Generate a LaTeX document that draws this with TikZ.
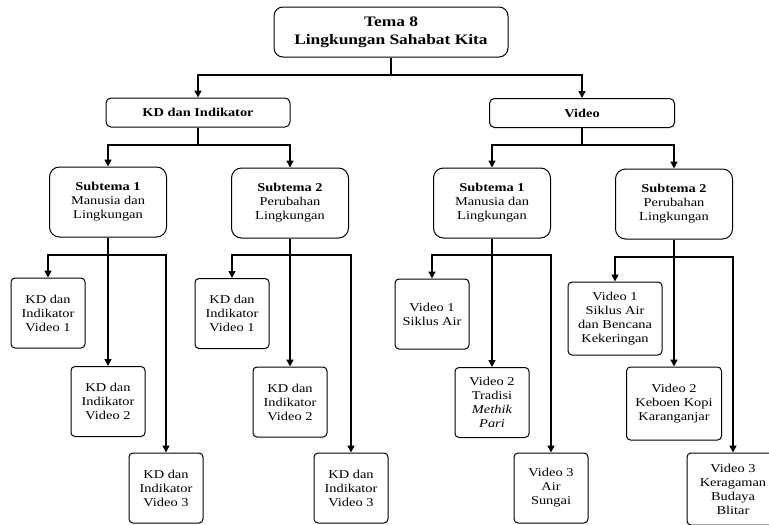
\documentclass[tikz,border=0pt]{standalone}
\usepackage{fontspec}
\setmainfont{Liberation Serif}[FakeStretch=1.2]
\usetikzlibrary{arrows.meta}
\begin{document}
\begin{tikzpicture}[x=1pt,y=-1pt,
  box/.style={draw, line width=1pt, align=center, inner sep=0pt, font=\fontsize{12}{14}\selectfont},
  leaf/.style={box, rounded corners=4pt, minimum width=74pt, minimum height=70pt},
  subbox/.style={box, rounded corners=10pt, minimum width=117pt, minimum height=70pt},
  headbox/.style={box, rounded corners=5pt, minimum height=29pt, font=\bfseries\fontsize{12}{14}\selectfont},
  arr/.style={line width=1.5pt, -{Triangle[length=7pt,width=7pt]}},
  ln/.style={line width=1.5pt}]
\useasboundingbox (0,0) rectangle (769,525);
\clip (0,0) rectangle (769,525);

\node[box, rounded corners=9pt, minimum width=234pt, minimum height=50pt,
      font=\bfseries\fontsize{14.5}{18}\selectfont] (top) at (391,32) {Tema 8\\Lingkungan Sahabat Kita};
\node[headbox, minimum width=184pt] (kd) at (198,112.5) {KD dan Indikator};
\node[headbox, minimum width=185pt] (vid) at (582,113) {Video};

\node[subbox] (s1) at (108,202) {\textbf{Subtema 1}\\Manusia dan\\Lingkungan};
\node[subbox] (s2) at (290,203) {\textbf{Subtema 2}\\Perubahan\\Lingkungan};
\node[subbox] (s3) at (492,203) {\textbf{Subtema 1}\\Manusia dan\\Lingkungan};
\node[subbox] (s4) at (674,204) {\textbf{Subtema 2}\\Perubahan\\Lingkungan};

\node[leaf] (a1) at (48,313) {KD dan\\Indikator\\Video 1};
\node[leaf] (a2) at (108,401.5) {KD dan\\Indikator\\Video 2};
\node[leaf] (a3) at (166,488) {KD dan\\Indikator\\Video 3};
\node[leaf] (b1) at (232,313.5) {KD dan\\Indikator\\Video 1};
\node[leaf] (b2) at (290,402) {KD dan\\Indikator\\Video 2};
\node[leaf] (b3) at (351,488) {KD dan\\Indikator\\Video 3};
\node[leaf] (c1) at (432,314) {Video 1\\Siklus Air};
\node[leaf] (c2) at (492,402.5) {Video 2\\Tradisi\\\textit{Methik}\\\textit{Pari}};
\node[leaf] (c3) at (551,488) {Video 3\\Air\\Sungai};
\node[leaf, minimum width=94pt, minimum height=73pt] (d1) at (615,318.5) {Video 1\\Siklus Air\\dan Bencana\\Kekeringan};
\node[leaf, minimum width=95pt, minimum height=73pt] (d2) at (674,403.5) {Video 2\\Keboen Kopi\\Karanganjar};
\node[leaf, minimum width=92pt, minimum height=72pt] (d3) at (733,489) {Video 3\\Keragaman\\Budaya\\Blitar};

\coordinate (j0) at (0,75);
\coordinate (j1) at (0,145);
\coordinate (j2) at (0,255);
\coordinate (j3) at (0,257);

\draw[ln] (top.south) -- (top.south |- j0);
\draw[arr] (top.south |- j0) -| (kd.north);
\draw[arr] (top.south |- j0) -| (vid.north);

\draw[ln] (kd.south) -- (kd.south |- j1);
\draw[arr] (kd.south |- j1) -| (s1.north);
\draw[arr] (kd.south |- j1) -| (s2.north);
\draw[ln] (vid.south) -- (vid.south |- j1);
\draw[arr] (vid.south |- j1) -| (s3.north);
\draw[arr] (vid.south |- j1) -| (s4.north);

\draw[arr] (s1.south) -- (a2.north);
\draw[arr] (s1.south |- j2) -| (a1.north);
\draw[arr] (s1.south |- j2) -| (a3.north);
\draw[arr] (s2.south) -- (b2.north);
\draw[arr] (s2.south |- j2) -| (b1.north);
\draw[arr] (s2.south |- j2) -| (b3.north);
\draw[arr] (s3.south) -- (c2.north);
\draw[arr] (s3.south |- j2) -| (c1.north);
\draw[arr] (s3.south |- j2) -| (c3.north);
\draw[arr] (s4.south) -- (d2.north);
\draw[arr] (s4.south |- j3) -| (d1.north);
\draw[arr] (s4.south |- j3) -| (d3.north);
\end{tikzpicture}
\end{document}
